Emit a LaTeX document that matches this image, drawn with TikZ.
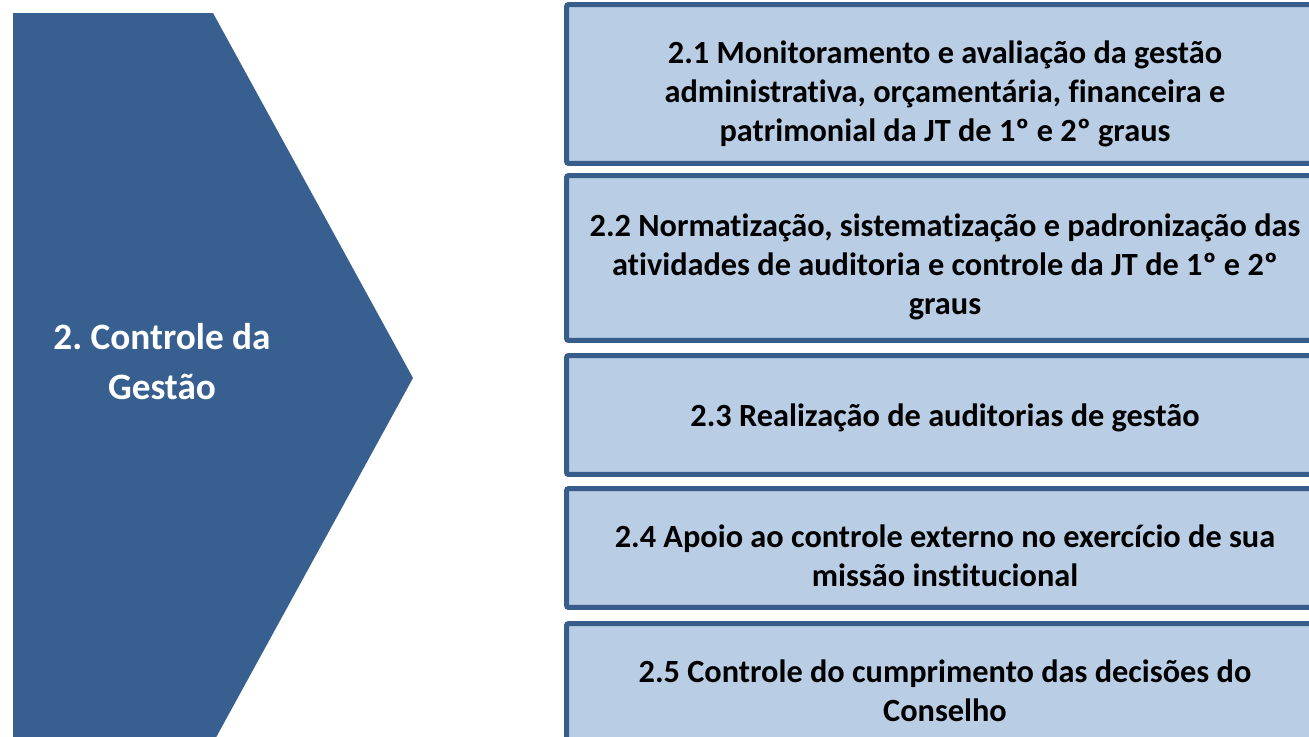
\documentclass[tikz,border=0pt]{standalone}
\usepackage{fontspec}
\setmainfont[Ligatures=NoCommon]{Carlito}
\usepackage{xcolor}
\usepackage{tikz}
\definecolor{chevroncolor}{HTML}{375F8F}
\definecolor{boxfill}{HTML}{B9CDE5}
\definecolor{boxline}{HTML}{385D8A}
\frenchspacing

\begin{document}
\begin{tikzpicture}[x=0.02cm, y=-0.02cm,
  itembox/.style={draw=boxline, fill=boxfill, line width=0.1cm, rounded corners=0.04cm, rectangle, inner sep=0pt, minimum width=15.14cm},
  itemtext/.style={align=center, inner sep=0pt, font=\fontsize{18.4pt}{22.2pt}\selectfont\bfseries}]%
\clip (0,0) rectangle (1309,737);%
\fill[chevroncolor] (13,13) -- (213,13) -- (413,378) -- (213,743) -- (13,743) -- cycle;%
\node[align=center, inner sep=0pt, text=white, font=\fontsize{21.2pt}{28.5pt}\selectfont\bfseries] (goal) at (162,362) {2. Controle da\\Gestão};%
\node[itembox, minimum height=3.18cm] (item1) at (945,84) {};%
\node[itembox, minimum height=3.3cm] (item2) at (945,258) {};%
\node[itembox, minimum height=2.38cm] (item3) at (945,415) {};%
\node[itembox, minimum height=2.38cm] (item4) at (945,548) {};%
\node[itembox, minimum height=2.38cm] (item5) at (945,683) {};%
\node[itemtext] (text1) at (945,94) {2.1 Monitoramento e avaliação da gestão\\administrativa, orçamentária, financeira e\\patrimonial da JT de 1º e 2º graus};%
\node[itemtext] (text2) at (945,267) {2.2 Normatização, sistematização e padronização das\\atividades de auditoria e controle da JT de 1º e 2º\\graus};%
\node[itemtext] (text3) at (945,418) {2.3 Realização de auditorias de gestão};%
\node[itemtext] (text4) at (945,556) {2.4 Apoio ao controle externo no exercício de sua\\missão institucional};%
\node[itemtext] (text5) at (945,691) {2.5 Controle do cumprimento das decisões do\\Conselho};%
\end{tikzpicture}
\end{document}
